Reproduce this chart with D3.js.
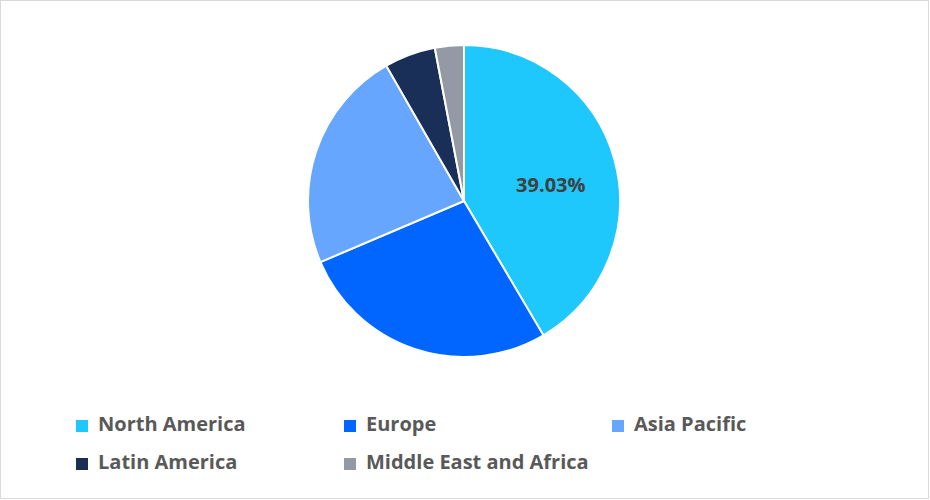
<!DOCTYPE html>
<html lang="en">
<head>
<meta charset="UTF-8">
<style>
  body { margin: 0; background: #fff; font-family: 'Open Sans', 'DejaVu Sans', sans-serif; }
</style>
</head>
<body>
<svg id="chart" width="930" height="500"></svg>
<script src="https://d3js.org/d3.v7.min.js"></script>
<script>
const regions = ['North America', 'Europe', 'Asia Pacific', 'Latin America', 'Middle East and Africa'];
// slice sizes
const shares = [41.5, 27.1, 23.1, 5.3, 3.0];
// the chart prints this figure on the largest slice
const sliceLabels = ['39.03%'];
const colors = ['#1ec8fc', '#0066ff', '#66a6ff', '#1a2f57', '#9499a6'];

const svg = d3.select('#chart');
svg.append('rect').attr('x', 0.5).attr('y', 0.5).attr('width', 928).attr('height', 498)
  .attr('fill', '#fff').attr('stroke', '#d9d9d9');

const data = regions.map((r, i) => ({ region: r, value: shares[i] }));
const pie = d3.pie().value(d => d.value).sort(null);
const arc = d3.arc().innerRadius(0).outerRadius(156);
const g = svg.append('g').attr('transform', 'translate(464,201)');

const arcs = pie(data);
g.selectAll('path').data(arcs).enter().append('path')
  .attr('d', arc)
  .attr('fill', (d, i) => colors[i])
  .attr('stroke', '#fff').attr('stroke-width', 2);

const labelArc = d3.arc().innerRadius(90).outerRadius(90);
const c = labelArc.centroid(arcs[0]);
g.append('text').attr('x', c[0]).attr('y', c[1] + 9)
  .attr('text-anchor', 'middle').attr('dominant-baseline', 'middle')
  .attr('font-size', 20).attr('font-weight', 'bold').attr('fill', '#404040')
  .text(sliceLabels[0]);

const legend = svg.append('g');
const item = legend.selectAll('g').data(regions).enter().append('g')
  .attr('transform', (d, i) => `translate(${76 + (i % 3) * 268},${426 + Math.floor(i / 3) * 38})`);
item.append('rect').attr('x', 0).attr('y', -6).attr('width', 12).attr('height', 12)
  .attr('fill', (d, i) => colors[i]);
item.append('text').attr('x', 22).attr('y', 0).attr('dominant-baseline', 'middle')
  .attr('font-size', 20).attr('font-weight', 'bold').attr('fill', '#595959')
  .text(d => d);
</script>
</body>
</html>
